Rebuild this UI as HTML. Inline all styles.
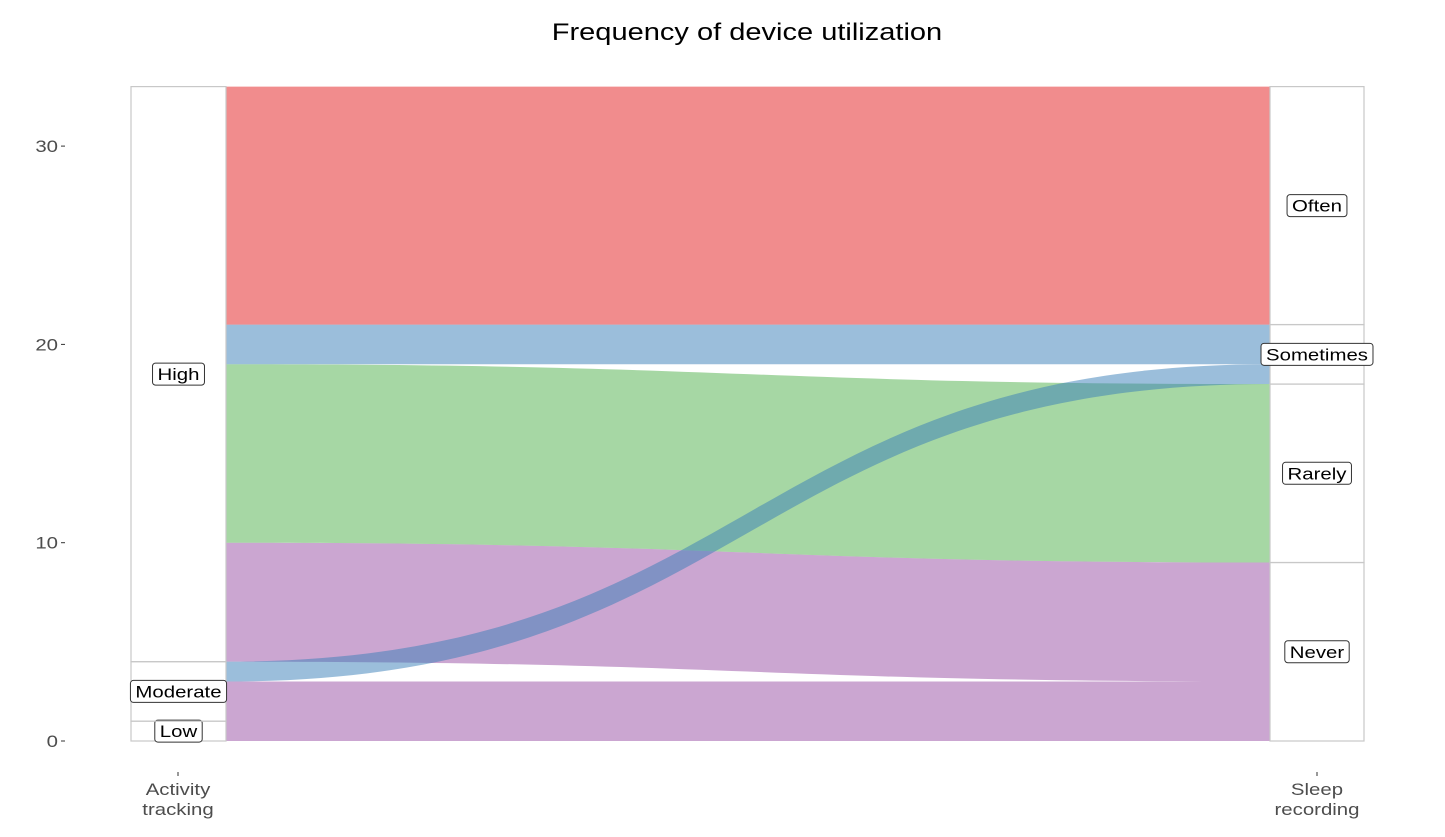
<!DOCTYPE html>
<html><head><meta charset="utf-8"><style>
body{margin:0;background:#fff;font-family:"Liberation Sans",sans-serif;}
</style></head><body>
<svg width="1445" height="832" xmlns="http://www.w3.org/2000/svg">
<text x="747" y="40" text-anchor="middle" font-size="24" fill="#000" transform="translate(747,0) scale(1.21,1) translate(-747,0)">Frequency of device utilization</text>
<g id="flows"></g>
<g id="strata"></g>
<g id="axis"></g>
</svg>
<script>
const yTicks=[0,10,20,30];
const leftStrata=["Low","Moderate","High"];
const leftCounts=[1,3,29];
const rightStrata=["Never","Rarely","Sometimes","Often"];
const rightCounts=[9,9,3,12];
// flows: [left y0, left y1], [right y0, right y1], colour category
const flowLeft=[[0,3],[4,10],[10,19],[19,21],[21,33],[3,4]];
const flowRight=[[0,3],[3,9],[9,18],[19,21],[21,33],[18,19]];
const flowCat=["Never","Never","Rarely","Sometimes","Often","Sometimes"];
const colors={Never:"#984EA3",Rarely:"#4DAF4A",Sometimes:"#377EB8",Often:"#E41A1C"};

const NS="http://www.w3.org/2000/svg";
const SX=1.2;
const y=v=>741-v*19.83;
const xL0=131,xL1=226,xR0=1270,xR1=1364;
function el(t,a,p){const e=document.createElementNS(NS,t);for(const k in a)e.setAttribute(k,a[k]);p.appendChild(e);return e;}
function stretch(t,cx){t.setAttribute('transform',`translate(${cx},0) scale(${SX},1) translate(${-cx},0)`);}
const fg=document.getElementById('flows'),sg=document.getElementById('strata'),ag=document.getElementById('axis');
const xm=(xL1+xR0)/2;
flowLeft.forEach((l,i)=>{const r=flowRight[i];
 const d=`M${xL1},${y(l[0])} C${xm},${y(l[0])} ${xm},${y(r[0])} ${xR0},${y(r[0])} L${xR0},${y(r[1])} C${xm},${y(r[1])} ${xm},${y(l[1])} ${xL1},${y(l[1])} Z`;
 const p=el('path',{d:d,fill:colors[flowCat[i]],'fill-opacity':0.5},fg);
 
 
});
function strata(names,counts,x0,x1,pre){let c=0;names.forEach((n,i)=>{const a=c,b=c+counts[i];c=b;
 const r=el('rect',{x:x0,y:y(b),width:x1-x0,height:y(a)-y(b),fill:'none',stroke:'#c8c8c8','stroke-width':1.2},sg);
 
 
 const cx=(x0+x1)/2,cy=(y(a)+y(b))/2;
 const bx=el('rect',{x:cx,y:cy-11,width:10,height:22,rx:3,fill:'#fff',stroke:'#333','stroke-width':1},sg);
 
 
 const t=el('text',{x:cx,y:cy+6,'text-anchor':'middle','font-size':17,fill:'#000'},sg);t.textContent=n;
 
 
 stretch(t,cx);
 const w=t.getComputedTextLength()*SX+10;
 bx.setAttribute('x',cx-w/2);bx.setAttribute('width',w);
});}
strata(leftStrata,leftCounts,xL0,xL1,'activity');
strata(rightStrata,rightCounts,xR0,xR1,'sleep');
yTicks.forEach(v=>{
 const t=el('text',{x:58,y:y(v)+6,'text-anchor':'end','font-size':17,fill:'#4d4d4d'},ag);t.textContent=v;
 
 
 stretch(t,58);
 const l=el('line',{x1:61,x2:65,y1:y(v),y2:y(v),stroke:'#333'},ag);
 
 
});
[[178,'Activity','tracking'],[1317,'Sleep','recording']].forEach(([x,a,b],i)=>{
 const l=el('line',{x1:x,x2:x,y1:772,y2:776,stroke:'#333'},ag);
 
 
 const t=el('text',{x:x,y:795,'text-anchor':'middle','font-size':17,fill:'#4d4d4d'},ag);
 
 
 stretch(t,x);
 const s1=el('tspan',{x:x,dy:0},t);s1.textContent=a;
 const s2=el('tspan',{x:x,dy:20},t);s2.textContent=b;
});
</script>
</body></html>
